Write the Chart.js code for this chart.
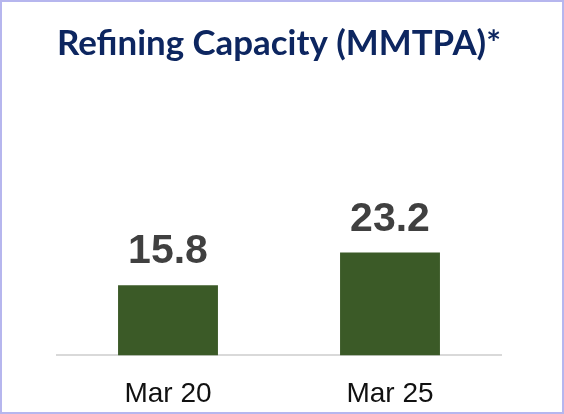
<!DOCTYPE html>
<html>
<head>
<meta charset="utf-8">
<script src="https://cdn.jsdelivr.net/npm/chart.js@4.4.1/dist/chart.umd.min.js"></script>
<style>
  html, body { margin: 0; padding: 0; background: #fff; }
  #wrap {
    width: 560px;
    height: 410px;
    border: 2px solid #b6b6ee;
  }
</style>
</head>
<body>
<div id="wrap"><canvas id="chart" width="560" height="410"></canvas></div>
<script>
// data
const periods = ["Mar 20", "Mar 25"];
const capacity = [15.8, 23.2];

// value labels above bars
const valueLabels = {
  id: "valueLabels",
  afterDatasetsDraw(chart) {
    const ctx = chart.ctx;
    const meta = chart.getDatasetMeta(0);
    ctx.save();
    ctx.font = "bold 41px 'Liberation Sans', Arial, sans-serif";
    ctx.fillStyle = "#404040";
    ctx.textAlign = "center";
    ctx.textBaseline = "alphabetic";
    meta.data.forEach((bar, i) => {
      ctx.fillText(capacity[i].toFixed(1), bar.x, bar.y - 22);
    });
    ctx.restore();
  },
};

new Chart(document.getElementById("chart"), {
  type: "bar",
  data: {
    labels: periods,
    datasets: [
      {
        data: capacity,
        backgroundColor: "#3b5a27",
        barPercentage: 0.45,
        categoryPercentage: 1,
      },
    ],
  },
  options: {
    responsive: false,
    animation: false,
    layout: { padding: { left: 55, right: 61, top: 0, bottom: -13 } },
    plugins: {
      legend: { display: false },
      tooltip: { enabled: false },
      title: {
        display: true,
        text: "Refining Capacity (MMTPA)*",
        color: "#0d2660",
        font: { family: "Lato, 'Open Sans', sans-serif", size: 35, weight: "bold" },
        padding: { top: 21, bottom: 20 },
      },
    },
    scales: {
      x: {
        grid: { display: false },
        border: { display: true, color: "#d9d9d9", width: 2 },
        ticks: {
          color: "#111",
          padding: 14,
          font: { family: "'Liberation Sans', Arial, sans-serif", size: 28 },
        },
      },
      y: {
        display: false,
        min: 0,
        max: 61,
      },
    },
  },
  plugins: [valueLabels],
});
</script>
</body>
</html>
